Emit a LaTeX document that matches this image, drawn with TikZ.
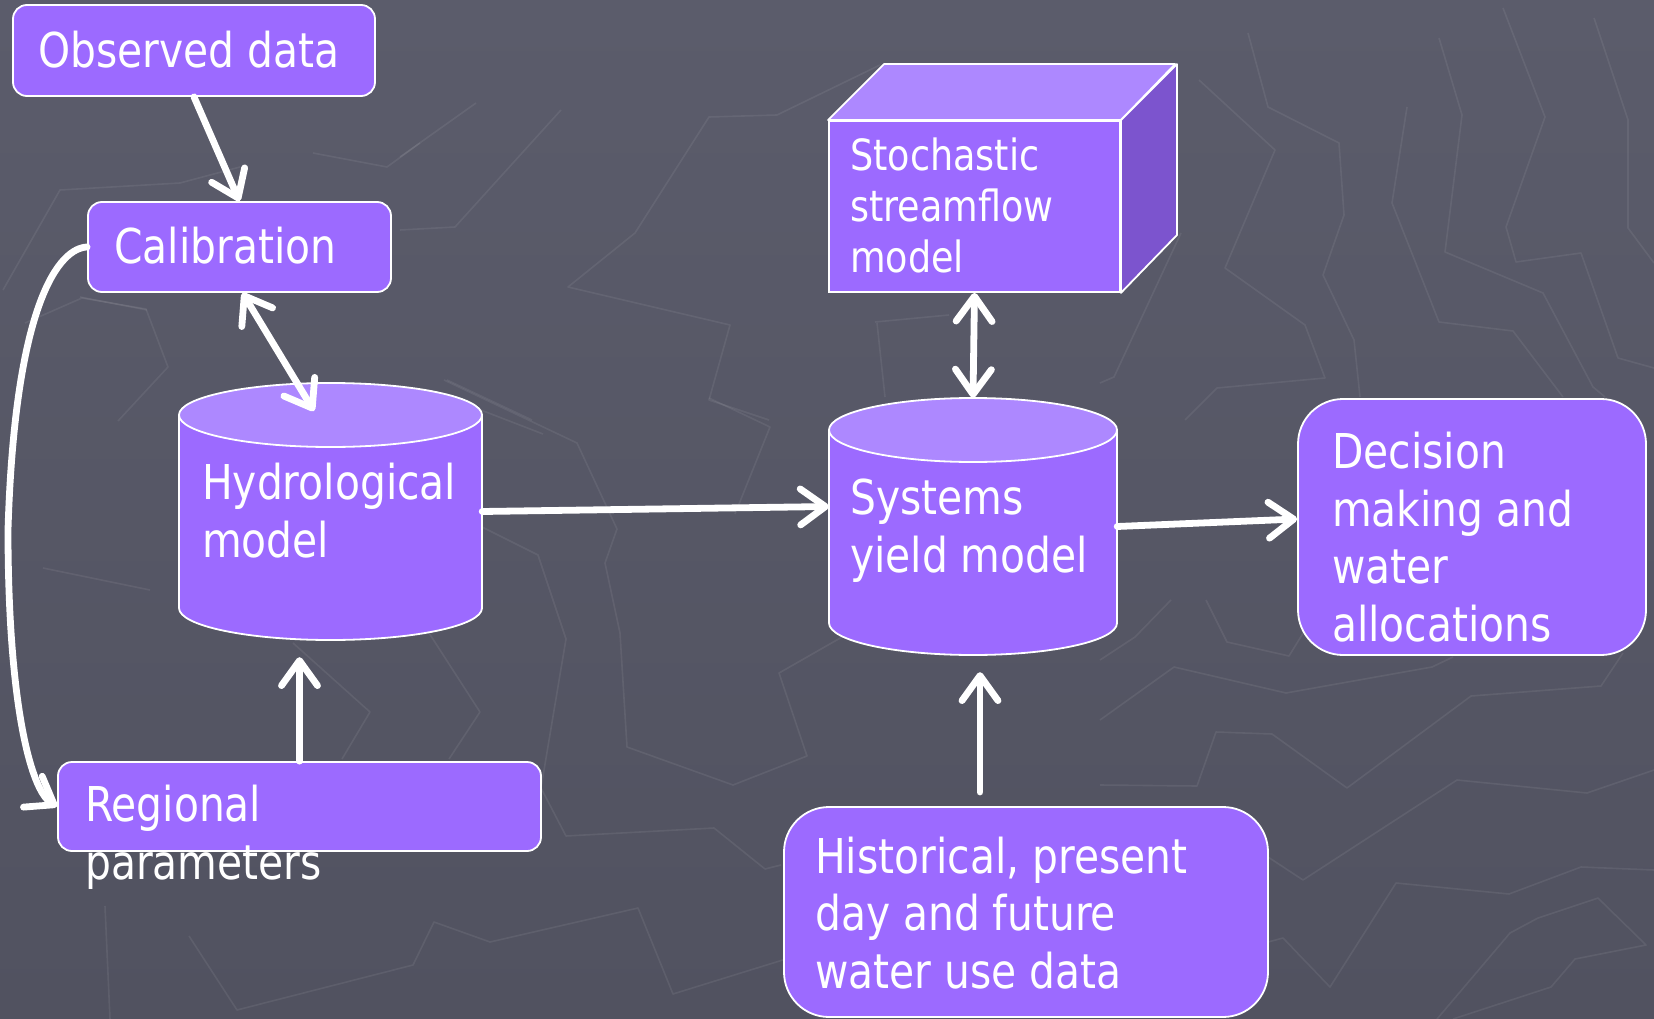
\documentclass[tikz,border=0pt]{standalone}
\usepackage{fontspec}
\setmainfont{DejaVu Sans}[FakeStretch=0.85]
\usetikzlibrary{arrows.meta,calc}
\definecolor{bgtop}{RGB}{91,92,107}
\definecolor{bgbot}{RGB}{81,82,96}
\definecolor{pbody}{RGB}{156,106,255}
\definecolor{ptop}{RGB}{173,136,255}
\definecolor{pside}{RGB}{124,84,206}
\begin{document}
\begin{tikzpicture}[x=1pt,y=-1pt,
  box/.style={draw=white, line width=1.8pt, fill=pbody, rounded corners=14pt, inner sep=0pt},
  ghost/.style={inner sep=0pt, draw=none},
  shp/.style={draw=white, line width=1.8pt, line join=round},
  txt/.style={text=white, inner sep=0pt, anchor=base west, align=left, font=\fontsize{48}{57.5}\selectfont},
  tip/.tip={Straight Barb[length=25pt,width=36pt,round]},
  arr/.style={draw=white, line width=6.8pt, line cap=round, -tip},
  darr/.style={draw=white, line width=6.8pt, line cap=round, tip-tip},
  map/.style={draw=white, draw opacity=0.07, line width=1.6pt, line join=round}
]
\useasboundingbox (0,0) rectangle (1654,1019);
\shade[top color=bgtop, bottom color=bgbot] (0,0) rectangle (1654,1019);

% faint background map lines
\begin{scope}
\clip (0,0) rectangle (1654,1019);
\draw[map] (1248,33) -- (1268,107) -- (1339,143) -- (1344,215) -- (1323,275) -- (1354,340) -- (1360,397);
\draw[map] (1199,80) -- (1275,150) -- (1225,268) -- (1305,325) -- (1325,378) -- (1217,388) -- (1185,420);
\draw[map] (1407,107) -- (1392,203) -- (1439,322) -- (1513,331) -- (1563,397);
\draw[map] (1439,38) -- (1462,115) -- (1445,252) -- (1543,293) -- (1593,387) -- (1605,397);
\draw[map] (1503,8) -- (1545,117) -- (1506,227) -- (1516,262) -- (1581,253) -- (1618,358) -- (1654,368);
\draw[map] (1594,18) -- (1628,120) -- (1628,228) -- (1654,263);
\draw[map] (1181,233) -- (1114,377) -- (1100,383);
\draw[map] (1100,720) -- (1174,667) -- (1286,693) -- (1432,667) -- (1453,657);
\draw[map] (1100,785) -- (1197,786) -- (1216,732) -- (1272,734) -- (1347,788) -- (1471,696) -- (1601,686) -- (1623,653);
\draw[map] (1268,857) -- (1303,880) -- (1457,780) -- (1587,793) -- (1654,770);
\draw[map] (1268,942) -- (1283,938) -- (1330,987) -- (1396,883) -- (1509,894) -- (1581,867) -- (1654,870);
\draw[map] (1437,1019) -- (1510,933) -- (1538,918) -- (1598,898) -- (1646,945) -- (1575,959) -- (1551,987) -- (1453,1019);
\draw[map] (1206,600) -- (1227,642) -- (1289,656) -- (1305,630);
\draw[map] (1171,600) -- (1135,637) -- (1100,660);
\draw[map] (476,103) -- (400,157);
\draw[map] (561,110) -- (455,227) -- (400,230);
\draw[map] (880,65) -- (777,115) -- (709,117) -- (635,233) -- (568,287) -- (730,325) -- (709,400) -- (769,420);
\draw[map] (877,323) -- (885,397);
\draw[map] (875,322) -- (949,315);
\draw[map] (447,380) -- (532,420);
\draw[map] (444,380) -- (577,443) -- (617,529) -- (605,563) -- (620,633) -- (627,747) -- (733,785) -- (807,756) -- (779,673) -- (842,637);
\draw[map] (709,398) -- (770,427) -- (735,514);
\draw[map] (482,527) -- (538,555) -- (566,639) -- (541,788) -- (566,836) -- (714,828) -- (765,869) -- (781,865);
\draw[map] (293,643) -- (370,712) -- (342,759);
\draw[map] (429,633) -- (480,712) -- (449,759);
\draw[map] (189,936) -- (237,1010) -- (413,965) -- (434,922) -- (490,942) -- (638,908) -- (673,994) -- (786,959);
\draw[map] (105,906) -- (110,1019);
\draw[map] (3,290) -- (60,190) -- (180,183) -- (240,167);
\draw[map] (313,153) -- (387,167) -- (420,143);
\draw[map] (80,297) -- (147,310);
\draw[map] (118,421) -- (168,367) -- (146,309) -- (82,298) -- (25,323);
\draw[map] (429,390) -- (543,434);
\draw[map] (43,568) -- (150,590);
\end{scope}

% boxes
\node[box, minimum width=362pt, minimum height=91pt] (obs) at (194,50.5) {};
\node[box, minimum width=303pt, minimum height=90pt] (cal) at (239.5,247) {};
\node[box, minimum width=483pt, minimum height=89pt] (reg) at (299.5,806.5) {};
\node[box, rounded corners=45pt, minimum width=348pt, minimum height=256pt] (dec) at (1472,527) {};
\node[box, rounded corners=45pt, minimum width=484pt, minimum height=210pt] (his) at (1026,912) {};

% cube
\node[box, rounded corners=0pt, minimum width=291pt, minimum height=171pt] (sto) at (974.5,206.5) {};
\filldraw[shp, fill=ptop] (sto.north west) -- ++(56,-56) -- ++(291,0) -- (sto.north east) -- cycle;
\filldraw[shp, fill=pside] (sto.north east) -- ++(56,-56) -- ++(0,171) -- (sto.south east) -- cycle;

% cylinders
\node[ghost, minimum width=303pt, minimum height=257pt] (hyd) at (330.5,511.5) {};
\filldraw[shp, fill=pbody] (179,415) -- (179,608) arc[start angle=180, end angle=0, x radius=151.5, y radius=32] -- (482,415) -- cycle;
\filldraw[shp, fill=ptop] (330.5,415) ellipse [x radius=151.5, y radius=32];

\node[ghost, minimum width=288pt, minimum height=257pt] (sys) at (973,526.5) {};
\filldraw[shp, fill=pbody] (829,430) -- (829,623) arc[start angle=180, end angle=0, x radius=144, y radius=32] -- (1117,430) -- cycle;
\filldraw[shp, fill=ptop] (973,430) ellipse [x radius=144, y radius=32];

% texts (multi-line nodes: base = last line's baseline)
\node[txt] (obs-t) at (38,68) {Observed data};
\node[txt] (cal-t) at (114,263) {Calibration};
\node[txt] (hyd-t) at (202,557) {Hydrological\\model};
\node[txt] (reg-t) at (85,879) {Regional\\parameters};
\node[txt, font=\fontsize{43}{50.5}\selectfont] (sto-t) at (850,272) {Stochastic\\streamflow\\model};
\node[txt] (sys-t) at (850,572) {Systems\\yield model};
\node[txt] (dec-t) at (1332,641) {Decision\\making and\\water\\allocations};
\node[txt] (his-t) at (815,988) {Historical, present\\day and future\\water use data};

% connectors
\coordinate (hydin) at (314,411);
\coordinate (hisout) at (980,792);
\draw[arr] (obs.south) -- (cal.north);
\draw[darr] ([xshift=3pt]cal.south) -- (hydin);
\draw[arr] (hyd.east) -- ([yshift=20pt]sys.west);
\draw[arr] (sys.east) -- ([yshift=8pt]dec.west);
\draw[darr] (sto.south) -- (sys.north);
\draw[arr, shorten >=17pt] (reg.north) -- (reg.north |- hyd.south);
\draw[arr, shorten >=17pt] (hisout) -- (hisout |- sys.south);
\draw[arr] (cal.west) .. controls (60,248) and (15,300) .. (8,530) .. controls (8,700) and (30,790) .. (reg.west);
\end{tikzpicture}
\end{document}
